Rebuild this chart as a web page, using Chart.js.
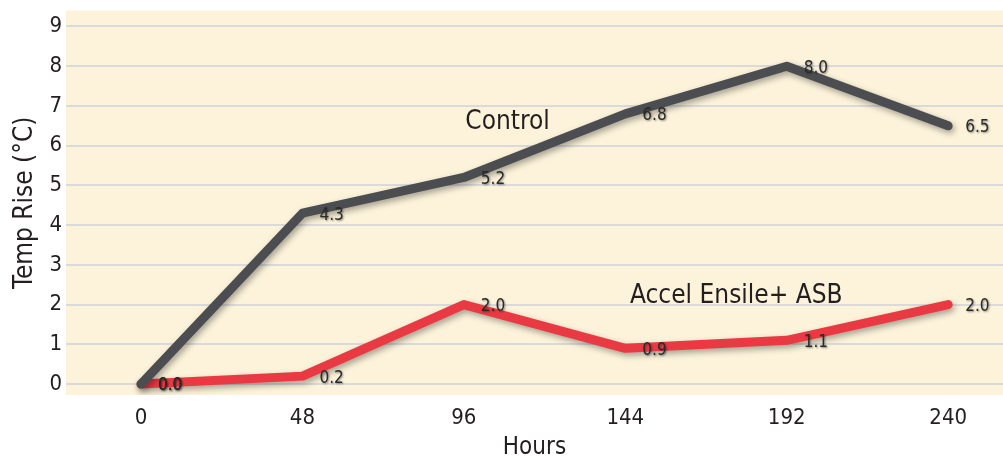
<!DOCTYPE html>
<html>
<head>
<meta charset="utf-8">
<script src="https://cdn.jsdelivr.net/npm/chart.js@4/dist/chart.umd.min.js"></script>
<style>
  html, body { margin: 0; padding: 0; background: #fff; }
  #wrap { width: 1003px; height: 462px; }
</style>
</head>
<body>
<div id="wrap"><canvas id="chart"></canvas></div>
<script>
// hours after opening
const hours = [0, 48, 96, 144, 192, 240];
const yTicks = [0, 1, 2, 3, 4, 5, 6, 7, 8, 9];
// temperature rise above ambient, deg C
const controlRise = [0.0, 4.3, 5.2, 6.8, 8.0, 6.5];
const accelRise = [0.0, 0.2, 2.0, 0.9, 1.1, 2.0];
const seriesNames = ['Control', 'Accel Ensile+ ASB'];

const FONT = '"DejaVu Sans Condensed", "Roboto", sans-serif';

// yellow plot background
const bgPlugin = {
    id: 'plotBg',
    beforeDraw(chart) {
        const { ctx, chartArea: a } = chart;
        ctx.save();
        ctx.fillStyle = '#fcf3da';
        ctx.fillRect(a.left, a.top, a.right - a.left, a.bottom - a.top);
        ctx.restore();
    }
};

// soft drop shadow under the lines
const shadowPlugin = {
    id: 'lineShadow',
    beforeDatasetDraw(chart) {
        const ctx = chart.ctx;
        ctx.save();
        ctx.shadowColor = 'rgba(0,0,0,0.35)';
        ctx.shadowBlur = 6;
        ctx.shadowOffsetX = 2;
        ctx.shadowOffsetY = 3;
    },
    afterDatasetDraw(chart) {
        chart.ctx.restore();
    }
};

// value labels next to each point + series names in the plot
const labelPlugin = {
    id: 'valueLabels',
    afterDatasetsDraw(chart) {
        const ctx = chart.ctx;
        const xs = chart.scales.x, ys = chart.scales.y;
        ctx.save();
        ctx.font = '17px ' + FONT;
        ctx.textAlign = 'left';
        ctx.textBaseline = 'middle';
        ctx.fillStyle = '#2b2b2b';
        ctx.shadowColor = 'rgba(0,0,0,0.45)';
        ctx.shadowBlur = 2;
        ctx.shadowOffsetX = 1;
        ctx.shadowOffsetY = 1;
        chart.data.datasets.forEach((ds, i) => {
            chart.getDatasetMeta(i).data.forEach((pt, j) => {
                ctx.fillText(ds.data[j].y.toFixed(1), pt.x + 17, pt.y + 2);
            });
        });
        ctx.shadowColor = 'transparent';
        ctx.font = '26px ' + FONT;
        ctx.textAlign = 'center';
        ctx.fillStyle = '#231f20';
        ctx.fillText(seriesNames[0], xs.getPixelForValue(109), ys.getPixelForValue(6.58));
        ctx.fillText(seriesNames[1], xs.getPixelForValue(177), ys.getPixelForValue(2.2));
        ctx.restore();
    }
};

const toPoints = arr => arr.map((v, i) => ({ x: hours[i], y: v }));

new Chart(document.getElementById('chart'), {
    type: 'line',
    data: {
        datasets: [
            {
                label: seriesNames[0],
                data: toPoints(controlRise),
                borderColor: '#4b4d51',
                borderWidth: 9,
                borderCapStyle: 'round',
                borderJoinStyle: 'round',
                pointRadius: 0,
                tension: 0
            },
            {
                label: seriesNames[1],
                data: toPoints(accelRise),
                borderColor: '#e93943',
                borderWidth: 9,
                borderCapStyle: 'round',
                borderJoinStyle: 'round',
                pointRadius: 0,
                tension: 0
            }
        ]
    },
    options: {
        responsive: true,
        maintainAspectRatio: false,
        animation: false,
        layout: { padding: { top: 8, right: 0, left: 0, bottom: 0 } },
        plugins: {
            legend: { display: false },
            tooltip: { enabled: false }
        },
        scales: {
            x: {
                type: 'linear',
                min: -22.3,
                max: 256.3,
                afterBuildTicks: s => { s.ticks = hours.map(v => ({ value: v })); },
                afterFit: s => { s.height = 67; },
                grid: { display: false, drawTicks: false },
                border: { display: false },
                ticks: {
                    color: '#231f20',
                    font: { family: FONT, size: 22 },
                    padding: 10,
                    maxRotation: 0
                },
                title: {
                    display: true,
                    text: 'Hours',
                    color: '#231f20',
                    font: { family: FONT, size: 24 },
                    padding: { top: 4, bottom: 0 }
                }
            },
            y: {
                min: -0.275,
                max: 9.4,
                afterBuildTicks: s => { s.ticks = yTicks.map(v => ({ value: v })); },
                afterFit: s => { s.width = 66; },
                grid: { color: '#dadada', lineWidth: 2, drawTicks: false },
                border: { display: false },
                ticks: {
                    color: '#231f20',
                    font: { family: FONT, size: 22, lineHeight: 0.6 },
                    padding: 4
                },
                title: {
                    display: true,
                    text: 'Temp Rise (°C)',
                    color: '#231f20',
                    font: { family: FONT, size: 26 },
                    padding: { top: 10, bottom: 4 }
                }
            }
        }
    },
    plugins: [bgPlugin, shadowPlugin, labelPlugin]
});
</script>
</body>
</html>
